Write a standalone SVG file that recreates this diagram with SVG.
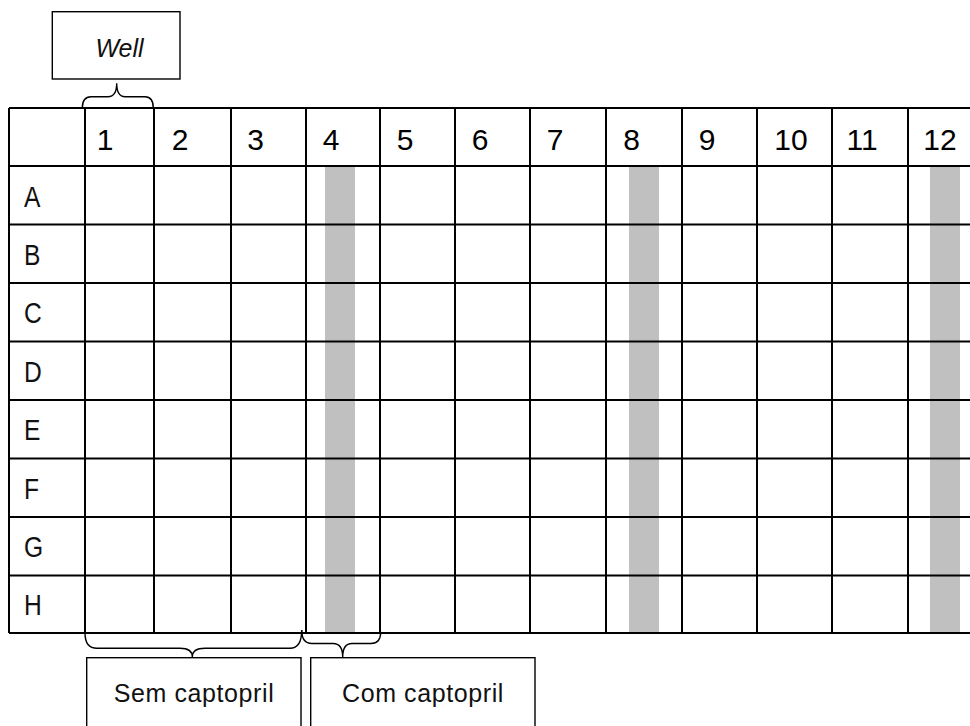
<svg xmlns="http://www.w3.org/2000/svg" width="970" height="726" viewBox="0 0 970 726">
<style>
.grid{stroke:#000;stroke-width:2;fill:none}
.box{stroke:#000;stroke-width:1.4;fill:#fff}
.brace{stroke:#000;stroke-width:1.4;fill:none}
.band{fill:#c0c0c0}
.num{font-family:"Liberation Sans",Arial,sans-serif;font-size:30px;fill:#000;text-anchor:middle}
.row{font-family:"Liberation Sans",Arial,sans-serif;font-size:30px;fill:#111}
.lbl{font-family:"Liberation Sans",Arial,sans-serif;font-size:25px;fill:#111;text-anchor:middle}
</style>
<rect width="970" height="726" fill="#fff"/>
<g id="plate">
<rect class="band" x="325" y="167" width="30" height="466"/>
<rect class="band" x="629" y="167" width="30" height="466"/>
<rect class="band" x="930" y="167" width="30" height="466"/>
<path class="grid" d="M9,108H984M9,166H984M9,224.5H984M9,283H984M9,341.5H984M9,400H984M9,458.5H984M9,517H984M9,575.5H984M9,633H984M9,108V633M85,108V633M154,108V633M231,108V633M306,108V633M380,108V633M455,108V633M530,108V633M606,108V633M682,108V633M757,108V633M832,108V633M908,108V633M984,108V633"/>
<text class="num" x="105" y="150">1</text>
<text class="num" x="180" y="150">2</text>
<text class="num" x="255.5" y="150">3</text>
<text class="num" x="331" y="150">4</text>
<text class="num" x="405" y="150">5</text>
<text class="num" x="480" y="150">6</text>
<text class="num" x="555" y="150">7</text>
<text class="num" x="631.7" y="150">8</text>
<text class="num" x="707" y="150">9</text>
<text class="num" x="791" y="150">10</text>
<text class="num" x="862" y="150">11</text>
<text class="num" x="940" y="150">12</text>
<g transform="translate(24 0) scale(0.82 1)">
<text class="row" x="0" y="206.7">A</text>
<text class="row" x="0" y="265.1">B</text>
<text class="row" x="0" y="323.5">C</text>
<text class="row" x="0" y="381.8">D</text>
<text class="row" x="0" y="440.2">E</text>
<text class="row" x="0" y="498.6">F</text>
<text class="row" x="0" y="557">G</text>
<text class="row" x="0" y="615.3">H</text>
</g>
</g>
<g id="well">
<rect class="box" x="52.3" y="11.7" width="127.7" height="67.3"/>
<text class="lbl" x="119.5" y="56.7" font-style="italic">Well</text>
</g>
<g id="sem">
<rect class="box" x="86.7" y="657.7" width="214.3" height="90"/>
<text class="lbl" x="194" y="701.7" letter-spacing="0.6">Sem captopril</text>
</g>
<g id="com">
<rect class="box" x="310.7" y="657.7" width="224.3" height="90"/>
<text class="lbl" x="423" y="701.7" letter-spacing="0.6">Com captopril</text>
</g>
<g id="connectors">
<path class="brace" d="M82.3,108Q82.3,96.7 91,96.7L108,96.7Q116.7,96.7 116.7,83.3Q116.7,96.7 125,96.7L145,96.7Q153.3,96.7 153.3,108"/>
<path class="brace" d="M85,633Q85,648.3 97,648.3L180,648.3Q192.3,648.3 192.3,657Q192.3,648.3 205,648.3L290,648.3Q301.7,648.3 301.7,630"/>
<path class="brace" d="M301.7,630Q301.7,643.5 312,643.5L333,643.5Q342.7,643.5 342.7,657Q342.7,643.5 352,643.5L371,643.5Q380.7,643.5 380.7,631.7"/>
</g>
</svg>
